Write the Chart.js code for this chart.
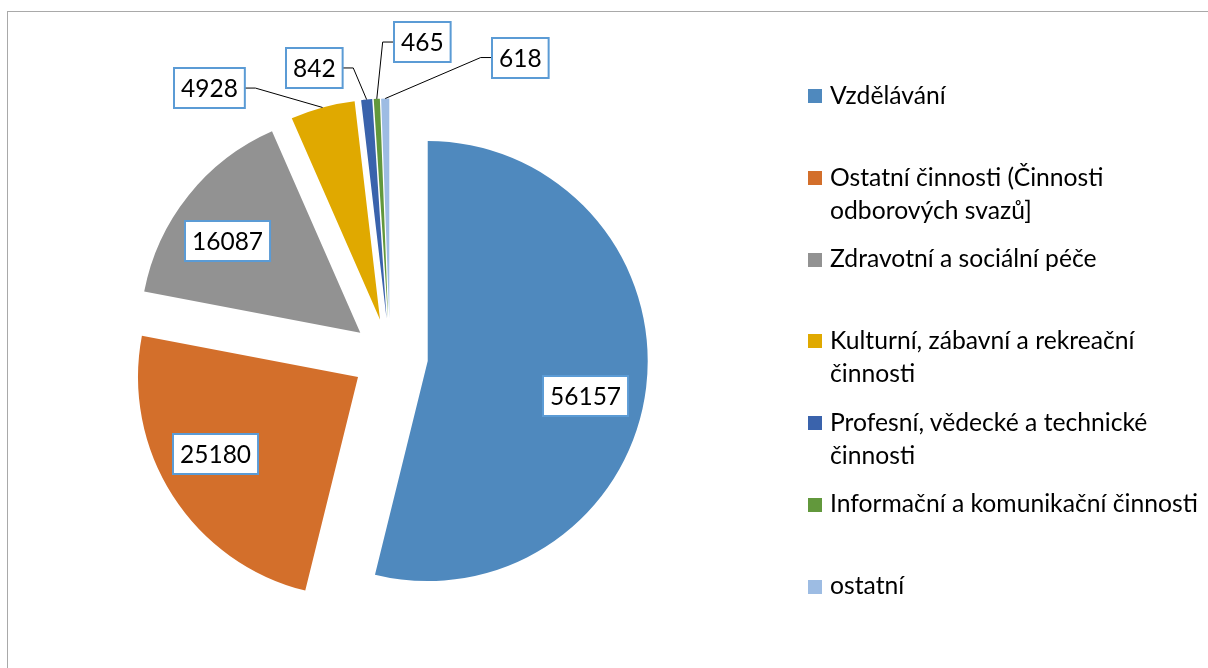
<!DOCTYPE html>
<html>
<head>
<meta charset="utf-8">
<script src="https://cdn.jsdelivr.net/npm/chart.js@4.4.1/dist/chart.umd.min.js"></script>
<style>
html, body { margin: 0; padding: 0; background: #fff; overflow: hidden; }
#wrap { position: relative; width: 1208px; height: 668px; overflow: hidden; }
#frame { position: absolute; left: 7px; top: 11px; width: 1400px; height: 900px; border: 1px solid #a9a9a9; }
#pie { position: absolute; left: 0; top: 0; }
#legend { position: absolute; left: 808px; top: 0; font-family: Lato, sans-serif; font-size: 24.7px; color: #000; }
.item { position: absolute; left: 0; width: 400px; line-height: 33px; }
.item .sw { position: absolute; left: 0; top: 9.5px; width: 14px; height: 14px; }
.item .tx { position: relative; top: -2px; margin-left: 22px; width: 378px; }
</style>
</head>
<body>
<div id="wrap">
  <div id="frame"></div>
  <canvas id="pie" width="1208" height="668"></canvas>
  <div id="legend"></div>
</div>
<script>
// data
var categories = [
    "Vzdělávání",
    "Ostatní činnosti (Činnosti odborových svazů]",
    "Zdravotní a sociální péče",
    "Kulturní, zábavní a rekreační činnosti",
    "Profesní, vědecké a technické činnosti",
    "Informační a komunikační činnosti",
    "ostatní"
];
var values = [56157, 25180, 16087, 4928, 842, 465, 618];
var colors = ["#4f89be", "#d36f2b", "#929292", "#e0a900", "#3a63ac", "#62983c", "#9dbce3"];

// layout
var explode = 38;
var insideFrac = 0.735;
var insideTurnDeg = [5.5, 4.4, -4.0];
var outsideShift = [null, null, null, [-113.6, -19.4], [-52.7, -31.6], [45.2, -56.8], [134.8, -41]];
var legendTop = 96.3, legendStep = 81.7;

function arcGeom(arc) {
    var p = arc.getProps(['x', 'y', 'startAngle', 'endAngle', 'outerRadius'], true);
    var mid = (p.startAngle + p.endAngle) / 2;
    return {
        cx: p.x + Math.cos(mid) * explode,
        cy: p.y + Math.sin(mid) * explode,
        r: p.outerRadius,
        mid: mid
    };
}

// pulls every slice out along its middle angle
var explodePlugin = {
    id: 'explodePie',
    beforeDatasetDraw: function(chart, args) {
        var ctx = chart.ctx;
        args.meta.data.forEach(function(arc) {
            var p = arc.getProps(['startAngle', 'endAngle'], true);
            var mid = (p.startAngle + p.endAngle) / 2;
            ctx.save();
            ctx.translate(Math.cos(mid) * explode, Math.sin(mid) * explode);
            arc.draw(ctx);
            ctx.restore();
        });
        return false;
    }
};

// boxed value labels, leader lines for the thin slices
var labelPlugin = {
    id: 'boxLabels',
    afterDatasetsDraw: function(chart) {
        var ctx = chart.ctx;
        var meta = chart.getDatasetMeta(0);
        ctx.save();
        ctx.font = '24.5px Lato';
        var boxes = [];
        meta.data.forEach(function(arc, i) {
            var g = arcGeom(arc);
            var text = String(chart.data.datasets[0].data[i]);
            var w = ctx.measureText(text).width + 14, h = 40;
            var bx, by;
            if (outsideShift[i]) {
                var ax = g.cx + Math.cos(g.mid) * g.r;
                var ay = g.cy + Math.sin(g.mid) * g.r;
                bx = ax + outsideShift[i][0];
                by = ay + outsideShift[i][1];
                var side = bx < ax ? bx + w / 2 : bx - w / 2;
                var elbow = bx < ax ? side + 11 : side - 11;
                ctx.strokeStyle = '#000';
                ctx.lineWidth = 1;
                ctx.beginPath();
                ctx.moveTo(ax, ay);
                ctx.lineTo(elbow, by);
                ctx.lineTo(side, by);
                ctx.stroke();
            } else {
                var a = g.mid + insideTurnDeg[i] * Math.PI / 180;
                bx = g.cx + Math.cos(a) * g.r * insideFrac;
                by = g.cy + Math.sin(a) * g.r * insideFrac;
            }
            boxes.push([bx, by, w, h, text]);
        });
        boxes.forEach(function(b) {
            var x = Math.round(b[0] - b[2] / 2), y = Math.round(b[1] - b[3] / 2);
            ctx.fillStyle = '#fff';
            ctx.fillRect(x, y, b[2], b[3]);
            ctx.strokeStyle = '#5b9bd5';
            ctx.lineWidth = 2;
            ctx.strokeRect(x, y, b[2], b[3]);
            ctx.fillStyle = '#000';
            ctx.textAlign = 'center';
            ctx.textBaseline = 'middle';
            ctx.fillText(b[4], x + b[2] / 2, y + b[3] / 2 + 1);
        });
        ctx.restore();
    }
};

var chart = new Chart(document.getElementById('pie'), {
    type: 'pie',
    data: {
        labels: categories,
        datasets: [{
            data: values,
            backgroundColor: colors,
            borderWidth: 0
        }]
    },
    options: {
        responsive: false,
        animation: false,
        radius: 220,
        layout: { padding: { left: 20, right: 448, top: 55, bottom: 10 } },
        plugins: {
            legend: { display: false },
            tooltip: { enabled: false }
        }
    },
    plugins: [explodePlugin, labelPlugin]
});

// legend
var legend = document.getElementById('legend');
categories.forEach(function(name, i) {
    var item = document.createElement('div');
    item.className = 'item';
    item.style.top = (legendTop + legendStep * i - 16.5) + 'px';
    var sw = document.createElement('div');
    sw.className = 'sw';
    sw.style.background = colors[i];
    var tx = document.createElement('div');
    tx.className = 'tx';
    tx.textContent = name;
    item.appendChild(sw);
    item.appendChild(tx);
    legend.appendChild(item);
});
</script>
</body>
</html>
